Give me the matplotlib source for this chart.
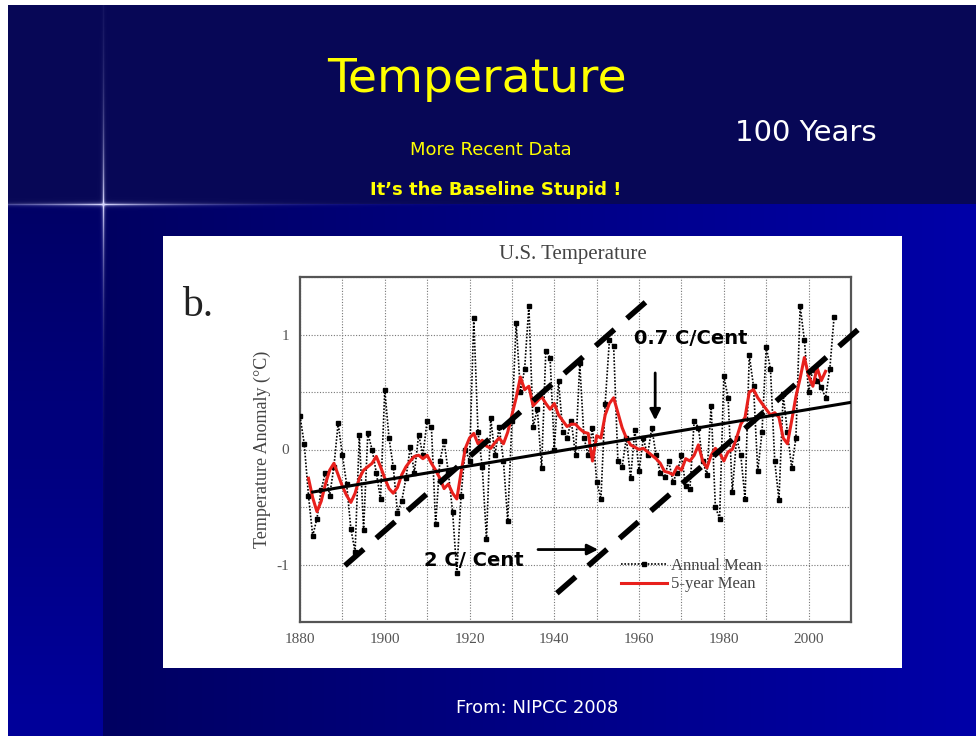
import numpy as np
import matplotlib
matplotlib.use("Agg")
import matplotlib.pyplot as plt
from matplotlib.ticker import MultipleLocator

plt.rcParams["axes.unicode_minus"] = False

# annual mean anomaly (C), 1880-2006
years_annual = list(range(1880, 2007))
annual_mean = [
    0.29, 0.05, -0.40, -0.75, -0.60, -0.35, -0.20, -0.40, -0.15, 0.23,
    -0.05, -0.30, -0.69, -0.89, 0.13, -0.70, 0.14, 0.00, -0.20, -0.43,
    0.52, 0.10, -0.15, -0.55, -0.45, -0.25, 0.02, -0.20, 0.13, -0.05,
    0.25, 0.20, -0.65, -0.10, 0.07, -0.20, -0.54, -1.07, -0.40, 0.00,
    -0.10, 1.14, 0.15, -0.15, -0.78, 0.27, -0.05, 0.20, -0.10, -0.62,
    0.25, 1.10, 0.50, 0.70, 1.25, 0.20, 0.35, -0.16, 0.86, 0.80,
    0.00, 0.60, 0.15, 0.10, 0.25, -0.05, 0.75, 0.10, -0.05, 0.19,
    -0.28, -0.43, 0.40, 0.95, 0.90, -0.10, -0.15, 0.10, -0.25, 0.17,
    -0.19, 0.10, -0.05, 0.19, -0.05, -0.20, -0.24, -0.10, -0.28, -0.20,
    -0.05, -0.32, -0.34, 0.25, 0.19, -0.10, -0.22, 0.38, -0.50, -0.60,
    0.64, 0.45, -0.37, 0.10, -0.05, -0.43, 0.82, 0.55, -0.19, 0.15,
    0.89, 0.70, -0.10, -0.44, 0.48, 0.15, -0.16, 0.10, 1.25, 0.95,
    0.50, 0.70, 0.60, 0.54, 0.45, 0.70, 1.15,
]

# 5-year mean, 1882-2004
years_5yr = list(range(1882, 2005))
five_year_mean = [
    -0.25, -0.42, -0.54, -0.45, -0.30, -0.18, -0.12, -0.22, -0.32, -0.40,
    -0.46, -0.38, -0.25, -0.18, -0.15, -0.12, -0.06, -0.15, -0.25, -0.34,
    -0.38, -0.33, -0.22, -0.15, -0.10, -0.06, -0.05, -0.08, -0.05, -0.12,
    -0.18, -0.25, -0.34, -0.30, -0.38, -0.43, -0.20, 0.01, 0.10, 0.14,
    0.05, 0.08, 0.03, 0.01, 0.06, 0.10, 0.05, 0.15, 0.30, 0.45,
    0.63, 0.52, 0.55, 0.38, 0.42, 0.46, 0.40, 0.35, 0.40, 0.30,
    0.25, 0.20, 0.22, 0.22, 0.18, 0.15, 0.14, -0.10, 0.12, 0.10,
    0.30, 0.40, 0.45, 0.32, 0.19, 0.10, 0.04, 0.02, 0.00, 0.01,
    -0.02, -0.05, -0.08, -0.12, -0.19, -0.20, -0.22, -0.15, -0.18, -0.08,
    -0.10, -0.05, 0.04, -0.10, -0.16, -0.05, 0.01, -0.03, -0.10, -0.02,
    0.00, 0.10, 0.22, 0.28, 0.50, 0.52, 0.45, 0.40, 0.35, 0.30,
    0.32, 0.28, 0.10, 0.05, 0.25, 0.46, 0.62, 0.80, 0.64, 0.55,
    0.71, 0.60, 0.68,
]

# hand drawn trend lines
trend_years = [1883, 2010]
trend_vals = [-0.37, 0.41]
steep1_years = [1890.6, 1961.5]
steep1_vals = [-1.01, 1.28]
steep2_years = [1940.6, 2012.2]
steep2_vals = [-1.25, 1.06]

W, H = 980, 740
fig = plt.figure(figsize=(W / 100, H / 100), dpi=100, facecolor="white")

# ---- slide background ----
bg = np.ones((H, W, 3))
X, Y = np.meshgrid(np.arange(W), np.arange(H))
navy = np.array([0.03, 0.03, 0.34])
inner = (X >= 8) & (X < 975) & (Y >= 5) & (Y < 736)
# lower part gets bluer toward the right, left strip bluer downwards
t = np.clip((X - 103) / 870.0, 0, 1)
blue_low = 0.38 + 0.28 * t
left_strip = 0.40 + 0.20 * np.clip((Y - 204) / 500.0, 0, 1)
blue_low = np.where(X < 103, left_strip, blue_low)
blue = np.where(Y >= 204, blue_low, navy[2])
rg = np.where(Y >= 204, 0.0, navy[0])
img = np.stack([rg, rg, blue], axis=-1)
# star glare
glow_h = np.exp(-np.abs(X - 103) / 90.0) * np.exp(-np.abs(Y - 204) / 1.2)
glow_v = np.exp(-np.abs(Y - 204) / 70.0) * np.exp(-np.abs(X - 103) / 1.0)
glow = np.clip(glow_h + glow_v, 0, 1)[..., None]
img = img * (1 - glow) + np.array([0.85, 0.85, 1.0]) * glow
bg[inner] = img[inner]
ax_bg = fig.add_axes([0, 0, 1, 1], zorder=-2)
ax_bg.imshow(bg, aspect="auto", extent=(0, W, H, 0))
ax_bg.axis("off")

# white panel holding the chart
panel = plt.Rectangle((163 / W, 1 - 668 / H), 739 / W, 432 / H,
                      transform=fig.transFigure, facecolor="white",
                      edgecolor="none", zorder=-1)
fig.patches.append(panel)

# ---- slide titles ----
fig.text(477 / W, 1 - 80 / H, "Temperature", color="#ffff00", fontsize=34,
         ha="center", va="center", family="DejaVu Sans")
fig.text(491 / W, 1 - 150 / H, "More Recent Data", color="#ffff00",
         fontsize=13, ha="center", va="center")
fig.text(496 / W, 1 - 190 / H, "It\u2019s the Baseline Stupid !",
         color="#ffff00", fontsize=13, fontweight="bold",
         ha="center", va="center")
fig.text(806 / W, 1 - 133 / H, "100 Years", color="white", fontsize=21,
         ha="center", va="center")
fig.text(537 / W, 1 - 708 / H, "From: NIPCC 2008", color="white",
         fontsize=13, ha="center", va="center")

# ---- chart ----
serif = "Liberation Serif"
ax = fig.add_axes([300 / W, 1 - 622 / H, 551 / W, 345 / H])
ax.set_facecolor("white")
ax.set_xlim(1880, 2010)
ax.set_ylim(-1.5, 1.5)

ax.xaxis.set_major_locator(MultipleLocator(20))
ax.xaxis.set_minor_locator(MultipleLocator(10))
ax.yaxis.set_major_locator(MultipleLocator(1))
ax.yaxis.set_minor_locator(MultipleLocator(0.5))
ax.grid(True, which="both", color="#777777", lw=0.8, ls=(0, (1, 1.5)))
ax.tick_params(which="both", length=0, labelsize=11, labelcolor="#555555",
               pad=8)
for lab in ax.get_xticklabels() + ax.get_yticklabels():
    lab.set_family(serif)
for s in ax.spines.values():
    s.set_color("#555555")
    s.set_linewidth(1.6)

ax.plot(years_annual, annual_mean, color="black", ls=(0, (1, 1)), lw=1.2,
        marker="s", ms=2.8, label="Annual Mean", zorder=3)
ax.plot(years_5yr, five_year_mean, color="#e8201c", lw=2.2,
        label="5-year Mean", zorder=4)

ax.plot(trend_years, trend_vals, color="black", lw=2.2, zorder=5)
ax.plot(steep1_years, steep1_vals, color="black", lw=4, ls=(0, (4.5, 3)),
        zorder=5, clip_on=False)
ax.plot(steep2_years, steep2_vals, color="black", lw=4, ls=(0, (4.5, 3)),
        zorder=5, clip_on=False)

ax.annotate("", xy=(1963.8, 0.23), xytext=(1963.8, 0.69),
            arrowprops=dict(arrowstyle="-|>", color="black", lw=2,
                            mutation_scale=16), zorder=6)
ax.text(1972.2, 0.965, "0.7 C/Cent", fontsize=14, fontweight="bold",
        ha="center", va="center", zorder=6)
ax.annotate("", xy=(1951.0, -0.87), xytext=(1935.5, -0.87),
            arrowprops=dict(arrowstyle="-|>", color="black", lw=2,
                            mutation_scale=16), zorder=6)
ax.text(1920.9, -0.965, "2 C/ Cent", fontsize=14, fontweight="bold",
        ha="center", va="center", zorder=6)

leg = ax.legend(loc="upper left", bbox_to_anchor=(0.57, 0.205), frameon=False,
                prop={"family": serif, "size": 12}, handlelength=2.8,
                handletextpad=0.2, labelspacing=0.15, borderaxespad=0)
for t_ in leg.get_texts():
    t_.set_color("#444444")

ax.set_ylabel("Temperature Anomaly (\u00b0C)", family=serif, fontsize=13,
              color="#444444", labelpad=4)
fig.text(573 / W, 1 - 254 / H, "U.S. Temperature", family=serif, fontsize=15,
         color="#444444", ha="center", va="center")
fig.text(182 / W, 1 - 316 / H, "b.", family=serif, fontsize=30,
         color="#222222", ha="left", va="baseline")

fig.savefig("out.png", dpi=100, facecolor="white")
